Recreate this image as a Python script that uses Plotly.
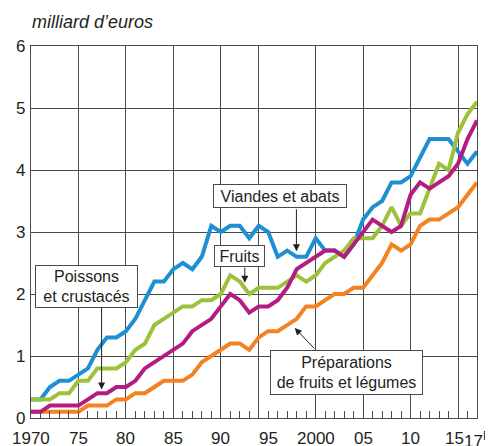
import plotly.graph_objects as go

# années 1970 à 2017 (2017 provisoire)
years = [1970, 1971, 1972, 1973, 1974, 1975, 1976, 1977, 1978, 1979,
         1980, 1981, 1982, 1983, 1984, 1985, 1986, 1987, 1988, 1989,
         1990, 1991, 1992, 1993, 1994, 1995, 1996, 1997, 1998, 1999,
         2000, 2001, 2002, 2003, 2004, 2005, 2006, 2007, 2008, 2009,
         2010, 2011, 2012, 2013, 2014, 2015, 2016, 2017]

viandes = [0.3, 0.3, 0.5, 0.6, 0.6, 0.7, 0.8, 1.1, 1.3, 1.3,
           1.4, 1.6, 1.9, 2.2, 2.2, 2.4, 2.5, 2.4, 2.6, 3.1,
           3.0, 3.1, 3.1, 2.9, 3.1, 3.0, 2.6, 2.7, 2.6, 2.6,
           2.9, 2.7, 2.7, 2.6, 2.8, 3.2, 3.4, 3.5, 3.8, 3.8,
           3.9, 4.2, 4.5, 4.5, 4.5, 4.3, 4.1, 4.3]

fruits = [0.3, 0.3, 0.3, 0.4, 0.4, 0.6, 0.6, 0.8, 0.8, 0.8,
          0.9, 1.1, 1.2, 1.5, 1.6, 1.7, 1.8, 1.8, 1.9, 1.9,
          2.0, 2.3, 2.2, 2.0, 2.1, 2.1, 2.1, 2.2, 2.3, 2.2,
          2.3, 2.5, 2.6, 2.7, 2.9, 2.9, 2.9, 3.1, 3.4, 3.1,
          3.3, 3.3, 3.7, 4.1, 4.0, 4.6, 4.9, 5.1]

poissons = [0.1, 0.1, 0.2, 0.2, 0.2, 0.2, 0.3, 0.4, 0.4, 0.5,
            0.5, 0.6, 0.8, 0.9, 1.0, 1.1, 1.2, 1.4, 1.5, 1.6,
            1.8, 2.0, 1.9, 1.7, 1.8, 1.8, 1.9, 2.1, 2.4, 2.5,
            2.6, 2.7, 2.7, 2.6, 2.8, 3.0, 3.2, 3.1, 3.0, 3.1,
            3.6, 3.8, 3.7, 3.8, 3.9, 4.1, 4.5, 4.8]

preparations = [0.1, 0.1, 0.1, 0.1, 0.1, 0.1, 0.2, 0.2, 0.2, 0.3,
                0.3, 0.4, 0.4, 0.5, 0.6, 0.6, 0.6, 0.7, 0.9, 1.0,
                1.1, 1.2, 1.2, 1.1, 1.3, 1.4, 1.4, 1.5, 1.6, 1.8,
                1.8, 1.9, 2.0, 2.0, 2.1, 2.1, 2.3, 2.5, 2.8, 2.7,
                2.8, 3.1, 3.2, 3.2, 3.3, 3.4, 3.6, 3.8]

label_years = [1970, 1975, 1980, 1985, 1990, 1995, 2000, 2005, 2010, 2015, 2017]
label_texts = ["1970", "75", "80", "85", "90", "95", "2000", "05", "10", "15", "17<sup>P</sup>"]
y_ticks = [0, 1, 2, 3, 4, 5, 6]
grid_years = [1975, 1980, 1985, 1990, 1994, 2000, 2005, 2010, 2015]

FONT = "Liberation Sans, Arial, sans-serif"
INK = "#231f20"
GRID = "#4a4a4a"

fig = go.Figure()

series = [
    (preparations, "Préparations de fruits et légumes", "#f58220"),
    (viandes, "Viandes et abats", "#1e8fd2"),
    (fruits, "Fruits", "#9cc23c"),
    (poissons, "Poissons et crustacés", "#b51c82"),
]
for vals, name, color in series:
    fig.add_trace(go.Scatter(x=years, y=vals, mode="lines", name=name,
                             line=dict(color=color, width=4)))

# étiquettes encadrées : texte, centre (x, y), largeur, hauteur en px
labels = [
    ("Poissons<br>et crustacés", 1975.86, 2.125, 101, 41),
    ("Viandes et abats", 1996.21, 3.58, 132, 22),
    ("Fruits", 1991.95, 2.61, 49, 20),
    ("Préparations<br>de fruits et légumes", 2003.21, 0.735, 151, 43),
]
for txt, cx, cy, w, h in labels:
    fig.add_annotation(x=cx, y=cy, text=txt, showarrow=False, width=w, height=h,
                       align="center", valign="middle", bgcolor="white",
                       bordercolor=GRID, borderwidth=1, borderpad=0,
                       font=dict(family=FONT, size=16, color=INK))

# flèches (pointe x, y ; départ ax, ay)
arrows = [
    (1977.44, 0.46, 1977.44, 1.80),
    (1997.97, 2.69, 1997.97, 3.39),
    (1992.53, 2.18, 1992.53, 2.45),
    (1997.79, 1.45, 2000.0, 1.10),
]
for x, y, ax, ay in arrows:
    fig.add_annotation(x=x, y=y, ax=ax, ay=ay, xref="x", yref="y", axref="x", ayref="y",
                       text="", showarrow=True, arrowhead=2, arrowsize=1.4,
                       arrowwidth=1, arrowcolor=INK)

# libellés des axes
for yr, txt in zip(label_years, label_texts):
    fig.add_annotation(x=yr, y=0, xref="x", yref="paper", yanchor="top", yshift=-9,
                       xshift=-3.5 if yr == 2015 else 0, text=txt, showarrow=False,
                       font=dict(family=FONT, size=17, color=INK))
for v in y_ticks:
    fig.add_annotation(x=0, y=v, xref="paper", yref="y", xanchor="right", xshift=-4,
                       text=str(v), showarrow=False,
                       font=dict(family=FONT, size=17, color=INK))

fig.add_annotation(x=-0.002, y=1.064, xref="paper", yref="paper", xanchor="left",
                   yanchor="middle", text="<i>milliard d’euros</i>", showarrow=False,
                   font=dict(family=FONT, size=18, color=INK))

fig.update_xaxes(
    range=[1970, 2017], tickmode="array", tickvals=grid_years, showticklabels=False,
    ticks="inside", ticklen=7, tickcolor=GRID,
    minor=dict(tickmode="linear", tick0=1970, dtick=1, ticks="inside", ticklen=7,
               tickcolor=GRID, showgrid=False),
    showgrid=True, gridcolor=GRID, gridwidth=1,
    showline=True, linecolor=GRID, linewidth=1, mirror=True,
)
fig.update_yaxes(
    range=[0, 6], dtick=1, showticklabels=False,
    showgrid=True, gridcolor=GRID, gridwidth=1,
    showline=True, linecolor=GRID, linewidth=1, mirror=True,
)
# la page ajoute une marge de 8 px : la figure fait 485 x 438
fig.update_layout(
    width=485, height=438, showlegend=False,
    margin=dict(l=23, r=15.5, t=37.5, b=28),
    plot_bgcolor="white",
)

fig.write_html("out.html")
